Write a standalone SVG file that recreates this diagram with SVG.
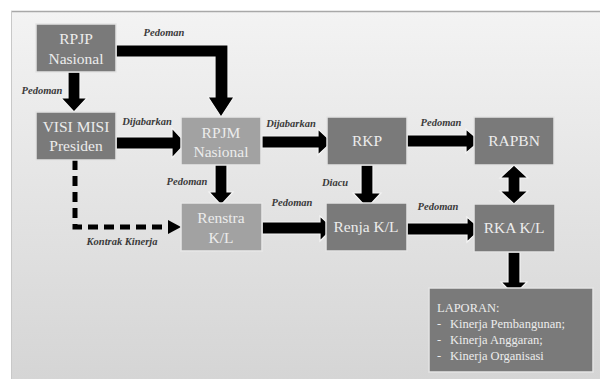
<svg xmlns="http://www.w3.org/2000/svg" width="600" height="379" viewBox="0 0 600 379">
<defs>
<linearGradient id="bg" x1="0" y1="0" x2="0" y2="1">
<stop offset="0" stop-color="#f3f3f3"/>
<stop offset="1" stop-color="#d5d5d5"/>
</linearGradient>
<style>
.dark{fill:#7a7a7a;stroke:#e4e4e4;stroke-width:1.5}
.light{fill:#a2a2a2;stroke:#e8e8e8;stroke-width:1.5}
.nt{font-family:"Liberation Serif",serif;font-size:15.5px;fill:#ececec;text-anchor:middle}
.lt{font-family:"Liberation Serif",serif;font-size:12.5px;fill:#ececec}
.lab{font-family:"Liberation Serif",serif;font-size:10.5px;font-style:italic;font-weight:bold;fill:#3a3a3a;text-anchor:middle}
.arr{fill:#000;stroke:#f4f4f4;stroke-width:1.2;stroke-linejoin:miter}
</style>
</defs>
<rect x="0" y="0" width="600" height="379" fill="#fff"/>
<rect x="11" y="11" width="589" height="368" fill="url(#bg)"/>
<line x1="11" y1="11.5" x2="600" y2="11.5" stroke="#a8a8a8" stroke-width="1.5"/>
<line x1="11.5" y1="11" x2="11.5" y2="379" stroke="#c8c8c8" stroke-width="1"/>

<g id="connectors">
<polygon class="arr" points="68,72 80,72 80,98 87,98 74,112 61,98 68,98"/>
<polygon class="arr" points="116,45 228,45 228,97 234,97 221,117 208,97 215,97 215,57 116,57"/>
<polygon class="arr" points="116,137 172,137 172,128 186,143 172,158 172,149 116,149"/>
<polygon class="arr" points="262,136 318,136 318,129 332,142 318,155 318,148 262,148"/>
<polygon class="arr" points="407,135 466,135 466,129 480,141 466,153 466,147 407,147"/>
<polygon class="arr" points="215,164 227,164 227,192 233,192 221,205 209,192 215,192"/>
<polygon class="arr" points="361,165 373,165 373,193 381,193 367,208 353,193 361,193"/>
<polygon class="arr" points="514,165 528,178 520,178 520,191 528,191 514,204 500,191 508,191 508,178 500,178"/>
<polygon class="arr" points="262,222 320,222 320,216 333,228 320,241 320,234 262,234"/>
<polygon class="arr" points="407,223 467,223 467,217 481,229 467,242 467,235 407,235"/>
<polygon class="arr" points="508,252 520,252 520,282 527,282 514,295 501,282 508,282"/>
<path d="M75,160 V227 H168" fill="none" stroke="#000" stroke-width="5" stroke-dasharray="10,6"/>
<polygon points="168,220 181,227 168,234" fill="#000"/>
</g>

<g id="rpjp"><rect class="dark" x="36" y="24" width="80" height="48"/><text class="nt" x="76" y="44">RPJP</text><text class="nt" x="76" y="64">Nasional</text></g>
<g id="visimisi"><rect class="dark" x="36" y="112" width="80" height="48"/><text class="nt" x="76" y="132">VISI MISI</text><text class="nt" x="76" y="151">Presiden</text></g>
<g id="rpjm"><rect class="light" x="181" y="117" width="80" height="48"/><text class="nt" x="221" y="138">RPJM</text><text class="nt" x="221" y="157">Nasional</text></g>
<g id="rkp"><rect class="dark" x="327" y="117" width="80" height="48"/><text class="nt" x="367" y="146">RKP</text></g>
<g id="rapbn"><rect class="dark" x="474" y="117" width="80" height="48"/><text class="nt" x="514" y="146">RAPBN</text></g>
<g id="renstra"><rect class="light" x="181" y="203" width="81" height="48"/><text class="nt" x="221" y="223">Renstra</text><text class="nt" x="221" y="243">K/L</text></g>
<g id="renja"><rect class="dark" x="326" y="203" width="81" height="48"/><text class="nt" x="366" y="232">Renja K/L</text></g>
<g id="rka"><rect class="dark" x="474" y="204" width="81" height="48"/><text class="nt" x="514" y="233">RKA K/L</text></g>
<g id="laporan"><rect class="dark" x="429" y="288" width="164" height="84"/>
<text class="lt" x="437" y="312">LAPORAN:</text>
<text class="lt" x="437" y="328">-</text><text class="lt" x="450" y="328">Kinerja Pembangunan;</text>
<text class="lt" x="437" y="344">-</text><text class="lt" x="450" y="344">Kinerja Anggaran;</text>
<text class="lt" x="437" y="360">-</text><text class="lt" x="450" y="360">Kinerja Organisasi</text>
</g>

<g id="labels">
<text class="lab" x="164" y="36">Pedoman</text>
<text class="lab" x="42" y="94">Pedoman</text>
<text class="lab" x="147" y="125">Dijabarkan</text>
<text class="lab" x="291" y="127">Dijabarkan</text>
<text class="lab" x="441" y="126">Pedoman</text>
<text class="lab" x="187" y="185">Pedoman</text>
<text class="lab" x="335" y="186">Diacu</text>
<text class="lab" x="292" y="206">Pedoman</text>
<text class="lab" x="438" y="210">Pedoman</text>
<text class="lab" x="122" y="245">Kontrak Kinerja</text>
</g>
</svg>
